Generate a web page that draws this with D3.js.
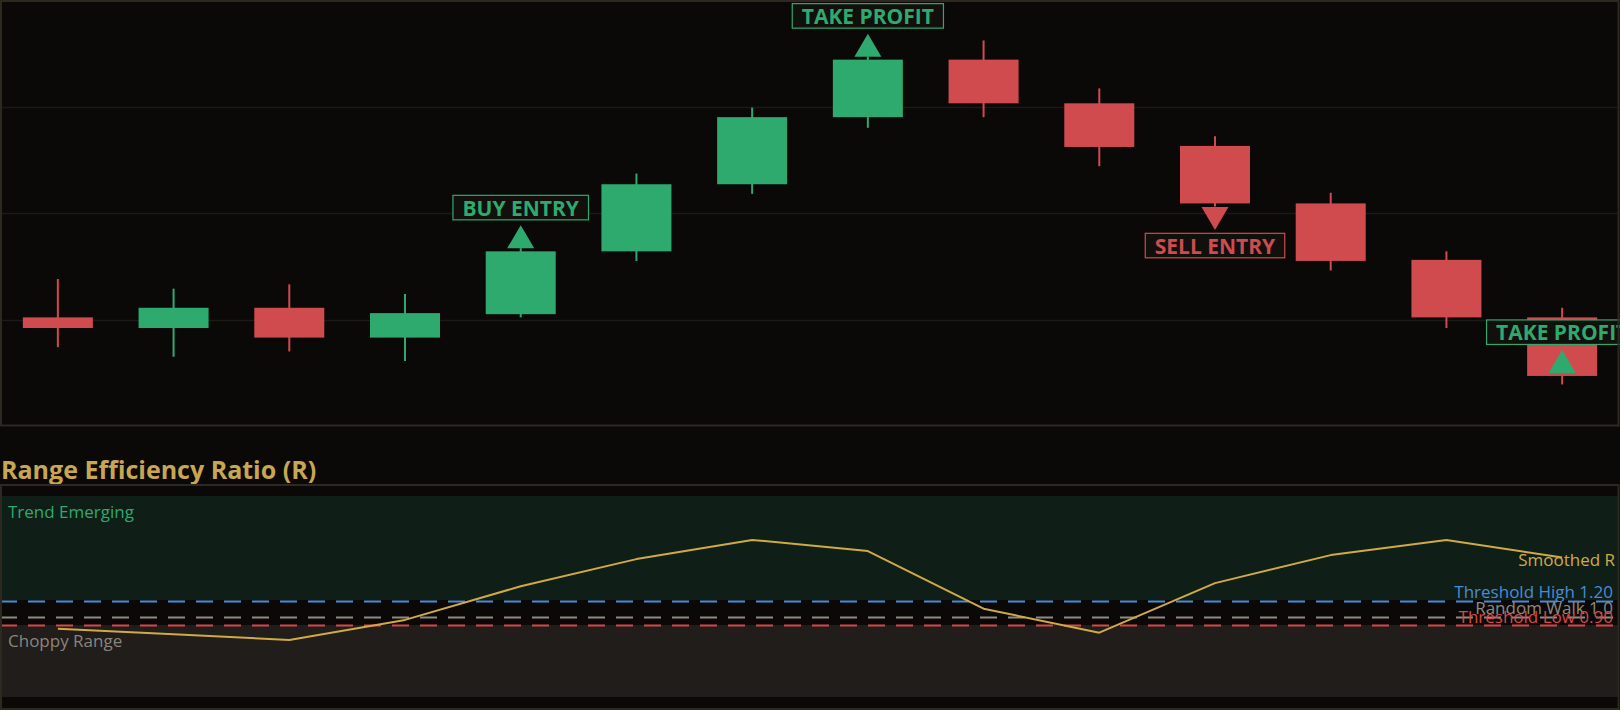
<!DOCTYPE html>
<html><head><meta charset="utf-8">
<script src="https://cdn.jsdelivr.net/npm/d3@7"></script>
<style>
html,body{margin:0;padding:0;background:#0a0908;overflow:hidden;}
svg{display:block;}
text{font-family:"Open Sans","Noto Sans",sans-serif;}
</style></head><body>
<svg id="chart" width="1620" height="710"></svg>
<script>
// ---- data ----
const bars = ["1","2","3","4","5","6","7","8","9","10","11","12","13","14"];
const opens  = [110.2,109.2,111.1,108.3,110.5,116.4,122.7,129.0,134.4,130.3,126.3,120.9,115.6,110.2];
const highs  = [113.8,112.9,113.3,112.4,116.7,123.7,129.9,134.7,136.2,131.7,127.2,121.9,116.4,111.1];
const lows   = [107.4,106.5,107.0,106.1,110.2,115.5,121.8,128.0,129.0,124.4,120.6,114.6,109.2,103.9];
const closes = [109.2,111.1,108.3,110.6,116.4,122.7,129.0,134.4,130.3,126.2,120.9,115.5,110.2,104.7];
const priceGrid = [110,120,130];
const smoothedR = [0.86,0.79,0.72,0.97,1.39,1.73,1.97,1.83,1.11,0.81,1.43,1.78,1.97,1.75];
const signalBars   = [4, 7, 10, 13];
const signalTypes  = ["up","up","down","up"];
const signalLabels = ["BUY ENTRY","TAKE PROFIT","SELL ENTRY","TAKE PROFIT"];
const signalColors = ["green","green","red","green"];
const refLevels = [1.20, 1.00, 0.90];
const refLabels = ["Threshold High 1.20","Random Walk 1.0","Threshold Low 0.90"];
const refColors = ["#4a8bd6","#8f8a7e","#d64848"];
const zoneTrendLabel = "Trend Emerging";
const zoneChopLabel = "Choppy Range";
const titleText = "Range Efficiency Ratio (R)";
const seriesLabel = "Smoothed R";

// ---- style ----
const W = 1620;
const C = {bg:"#0a0908", border:"#2d2820", grid:"#1c1a17", green:"#2eaa6e", red:"#d04b4e",
  gold:"#d0aa45", title:"#c9a650", trendZone:"#0f1f18", chopZone:"#201d1b", boxFill:"#12100d",
  trendText:"#2ea86d", chopText:"#8a857c"};

const svg = d3.select("#chart");
svg.append("rect").attr("width",W).attr("height",710).attr("fill",C.bg);

// ---- upper price panel ----
const x = d3.scalePoint().domain(bars).range([0, W]).padding(0.5);
const step = x.step();
const bodyW = step * 0.605;
const yP = d3.scaleLinear().domain([100,140]).range([426,0]);

const up = svg.append("g");
up.selectAll("line.grid").data(priceGrid).join("line")
  .attr("x1",2).attr("x2",W-2)
  .attr("y1",d=>Math.round(yP(d))+0.5).attr("y2",d=>Math.round(yP(d))+0.5)
  .attr("stroke",C.grid).attr("stroke-width",1.5);

const candles = bars.map((b,i)=>({b, o:opens[i], h:highs[i], l:lows[i], c:closes[i]}));
const cg = up.selectAll("g.candle").data(candles).join("g");
cg.append("line")
  .attr("x1",d=>x(d.b)).attr("x2",d=>x(d.b))
  .attr("y1",d=>yP(d.h)).attr("y2",d=>yP(d.l))
  .attr("stroke",d=>d.c>=d.o?C.green:C.red).attr("stroke-width",2);
cg.append("rect")
  .attr("x",d=>x(d.b)-bodyW/2).attr("width",bodyW)
  .attr("y",d=>yP(Math.max(d.o,d.c)))
  .attr("height",d=>Math.abs(yP(d.o)-yP(d.c)))
  .attr("fill",d=>d.c>=d.o?C.green:C.red);

// signals
const aW = 27, aH = 23, boxH = 24.5;
signalBars.forEach((bi,k)=>{
  const cx = x(bars[bi]);
  const col = signalColors[k]==="green"?C.green:C.red;
  const yc = yP(closes[bi]);
  const g = up.append("g");
  let boxTop;
  if (signalTypes[k]==="up") {
    const base = yc - 3, apex = base - aH;
    g.append("path").attr("d",`M${cx-aW/2},${base}L${cx},${apex}L${cx+aW/2},${base}Z`).attr("fill",col);
    boxTop = apex - 5.5 - boxH;
  } else {
    const top = yc + 3.6, apex = top + aH;
    g.append("path").attr("d",`M${cx-aW/2},${top}L${cx},${apex}L${cx+aW/2},${top}Z`).attr("fill",col);
    boxTop = apex + 3.3;
  }
  const box = g.append("rect").attr("y",boxTop).attr("height",boxH)
    .attr("fill",C.boxFill).attr("stroke",col).attr("stroke-width",1.2);
  const t = g.append("text").attr("x",cx).attr("y",boxTop+20.3)
    .attr("text-anchor","middle").attr("fill",col)
    .attr("font-size",21).attr("font-weight",700).text(signalLabels[k]);
  const tw = t.node().getComputedTextLength();
  box.attr("x",cx - tw/2 - 9.5).attr("width",tw + 19);
});

up.append("rect").attr("x",1).attr("y",1).attr("width",W-2.5).attr("height",424.5)
  .attr("fill","none").attr("stroke",C.border).attr("stroke-width",2);

// ---- title ----
svg.append("text").attr("x",1).attr("y",479).attr("fill",C.title)
  .attr("font-size",25).attr("font-weight",700).text(titleText);

// ---- lower indicator panel ----
const yR = d3.scaleLinear().domain([0,2.5]).range([697.5,497.5]);
const lo = svg.append("g");
lo.append("rect").attr("x",2).attr("width",W-4)
  .attr("y",yR(2.5)-1.5).attr("height",yR(refLevels[0])-yR(2.5))
  .attr("fill",C.trendZone);
lo.append("rect").attr("x",2).attr("width",W-4)
  .attr("y",yR(refLevels[2])-0.5).attr("height",yR(0)-yR(refLevels[2]))
  .attr("fill",C.chopZone);

lo.selectAll("line.ref").data(refLevels).join("line")
  .attr("x1",0).attr("x2",W-2)
  .attr("y1",d=>yR(d)).attr("y2",d=>yR(d))
  .attr("stroke",(d,i)=>refColors[i]).attr("stroke-width",2)
  .attr("stroke-dasharray","17,11");

lo.append("text").attr("x",8).attr("y",518).attr("fill",C.trendText)
  .attr("font-size",17).text(zoneTrendLabel);
lo.append("text").attr("x",8).attr("y",647).attr("fill",C.chopText)
  .attr("font-size",17).text(zoneChopLabel);

const line = d3.line().x((d,i)=>x(bars[i])).y(d=>yR(d));
lo.append("path").datum(smoothedR).attr("d",line)
  .attr("fill","none").attr("stroke",C.gold).attr("stroke-width",2)
  .attr("stroke-linejoin","round");

lo.append("text").attr("x",W-5).attr("y",yR(smoothedR[smoothedR.length-1])+8.5)
  .attr("text-anchor","end").attr("fill",C.gold).attr("font-size",17).text(seriesLabel);
const refDy = [-3.2,-3.5,-3];
lo.selectAll("text.ref").data(refLevels).join("text")
  .attr("x",W-7).attr("y",(d,i)=>yR(d)+refDy[i])
  .attr("text-anchor","end").attr("fill",(d,i)=>refColors[i])
  .attr("font-size",17).text((d,i)=>refLabels[i]);

lo.append("rect").attr("x",1).attr("y",485).attr("width",W-2.5).attr("height",224)
  .attr("fill","none").attr("stroke",C.border).attr("stroke-width",2);
</script>
</body></html>
